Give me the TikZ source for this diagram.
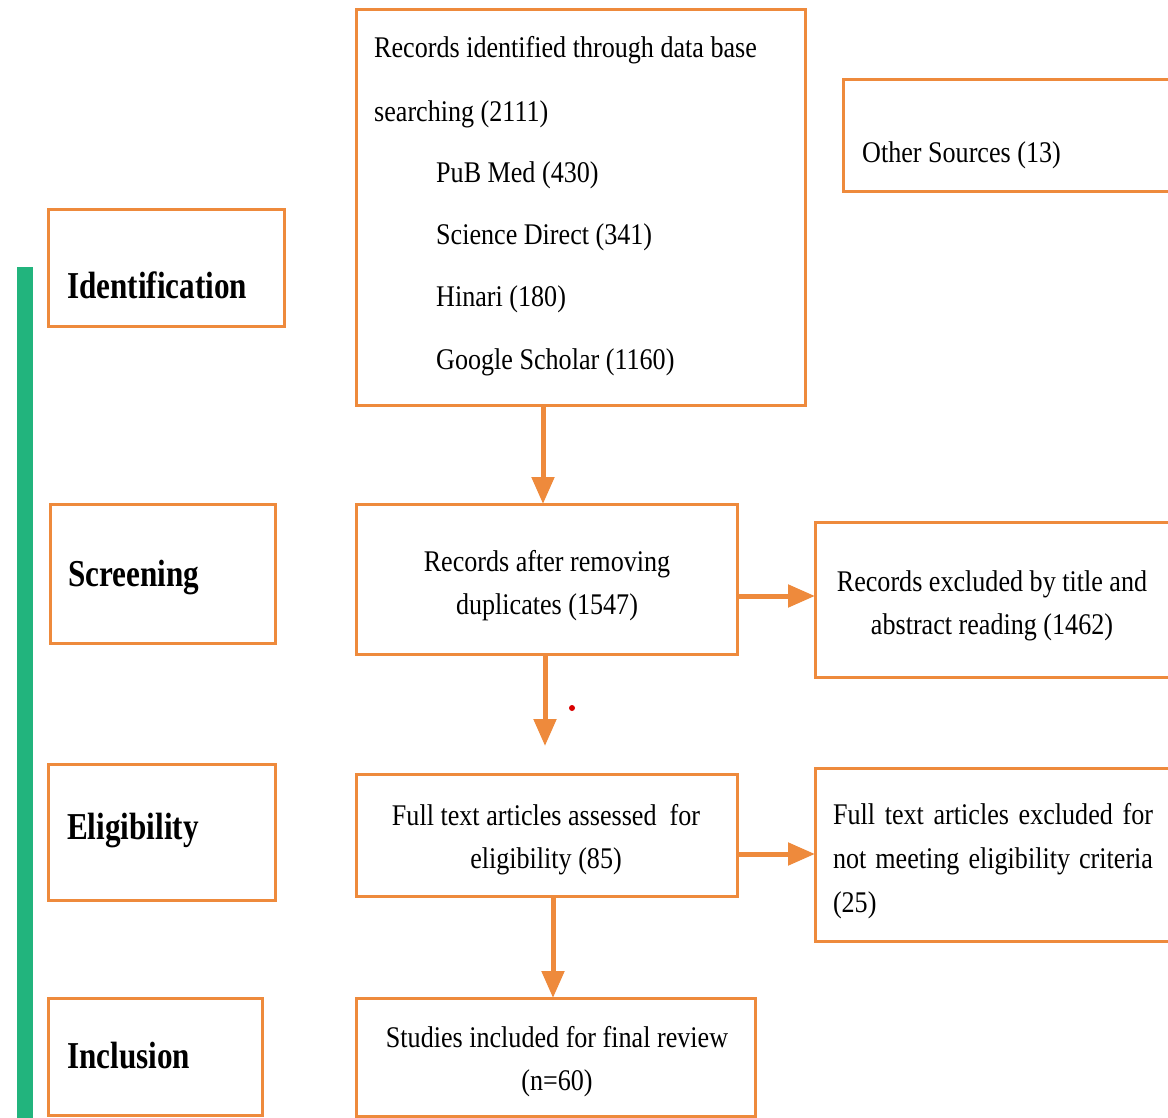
\documentclass[tikz,border=0pt]{standalone}
\usepackage{fontspec}
\setmainfont{Liberation Serif}[FakeStretch=0.87]
\newfontfamily\lblfont{Liberation Serif}[FakeStretch=0.82]
\usetikzlibrary{arrows.meta}
\definecolor{boxorange}{RGB}{238,138,60}
\definecolor{bargreen}{RGB}{34,180,125}
\begin{document}
\begin{tikzpicture}[x=1pt,y=-1pt,
  box/.style={draw=boxorange, line width=3pt, fill=white, inner sep=0pt, outer sep=0pt},
  txt/.style={inner sep=0pt, font=\fontsize{30}{43}\selectfont},
  lbl/.style={inner sep=0pt, anchor=west, font=\lblfont\bfseries\fontsize{38}{40}\selectfont},
  arr/.style={draw=boxorange, line width=5pt, -{Triangle[width=22pt,length=27pt]}}]
\clip (0,0) rectangle (1168,1118);
\fill[white] (0,0) rectangle (1168,1118);
% green bar
\fill[bargreen] (17,267) rectangle (33,1118);
% stage boxes
\node[box, minimum width=236, minimum height=116] (ident) at (166,268) {};
\node[box, minimum width=225, minimum height=139] (screen) at (162.5,573.5) {};
\node[box, minimum width=227, minimum height=136] (elig) at (161.5,832) {};
\node[box, minimum width=214, minimum height=117] (incl) at (155,1056.5) {};
\node[lbl] (identT) at (67,285) {Identification};
\node[lbl] (screenT) at (68,578) {Screening};
\node[lbl] (eligT) at (67,831) {Eligibility};
\node[lbl] (inclT) at (67,1056) {Inclusion};
% main boxes
\node[box, minimum width=449, minimum height=395] (big) at (580.5,207.5) {};
\node[txt, anchor=west] (b1) at (374,50) {Records identified through data base};
\node[txt, anchor=west] (b2) at (374,114) {searching (2111)};
\node[txt, anchor=west] (b3) at (436,175) {PuB Med (430)};
\node[txt, anchor=west] (b4) at (436,237) {Science Direct (341)};
\node[txt, anchor=west] (b5) at (436,299) {Hinari (180)};
\node[txt, anchor=west] (b6) at (436,362) {Google Scholar (1160)};

\node[box, minimum width=332, minimum height=112] (other) at (1009,136) {};
\node[txt, anchor=west] (otherT) at (862,155) {Other Sources (13)};

\node[box, minimum width=381, minimum height=150] (recs) at (546.5,579) {};
\node[txt, align=center] (recsT) at (547,586) {Records after removing\\duplicates (1547)};

\node[box, minimum width=360, minimum height=155] (excl1) at (995,599.5) {};
\node[txt, align=center] (excl1T) at (992,606) {Records excluded by title and\\abstract reading (1462)};

\node[box, minimum width=381, minimum height=122] (full) at (546.5,835) {};
\node[txt, align=center] (fullT) at (546,840) {Full text articles assessed~ for\\eligibility (85)};

\node[box, minimum width=360, minimum height=173] (excl2) at (995,854.5) {};
\node[txt, text width=320, align=justify, font=\fontsize{30}{44}\selectfont] (excl2T) at (993,861) {Full text articles excluded for not meeting eligibility criteria (25)};

\node[box, minimum width=399, minimum height=118] (studies) at (555.5,1057) {};
\node[txt, align=center] (studiesT) at (557,1062) {Studies included for final review\\(n=60)};

% connectors
\coordinate (c1) at (543,0);
\coordinate (c2) at (545,0);
\coordinate (c3) at (553,0);
\coordinate (c2end) at (545,746);
\coordinate (h1) at (0,596);
\coordinate (h2) at (0,854);
\draw[arr] (c1 |- big.south) -- (c1 |- recs.north);
\draw[arr] (c2 |- recs.south) -- (c2end);
\draw[arr] (c3 |- full.south) -- (c3 |- studies.north);
\draw[arr] (recs.east |- h1) -- (excl1.west |- h1);
\draw[arr] (full.east |- h2) -- (excl2.west |- h2);
% small red dot
\fill[red!85!black] (572,708) circle (3);
\end{tikzpicture}
\end{document}
